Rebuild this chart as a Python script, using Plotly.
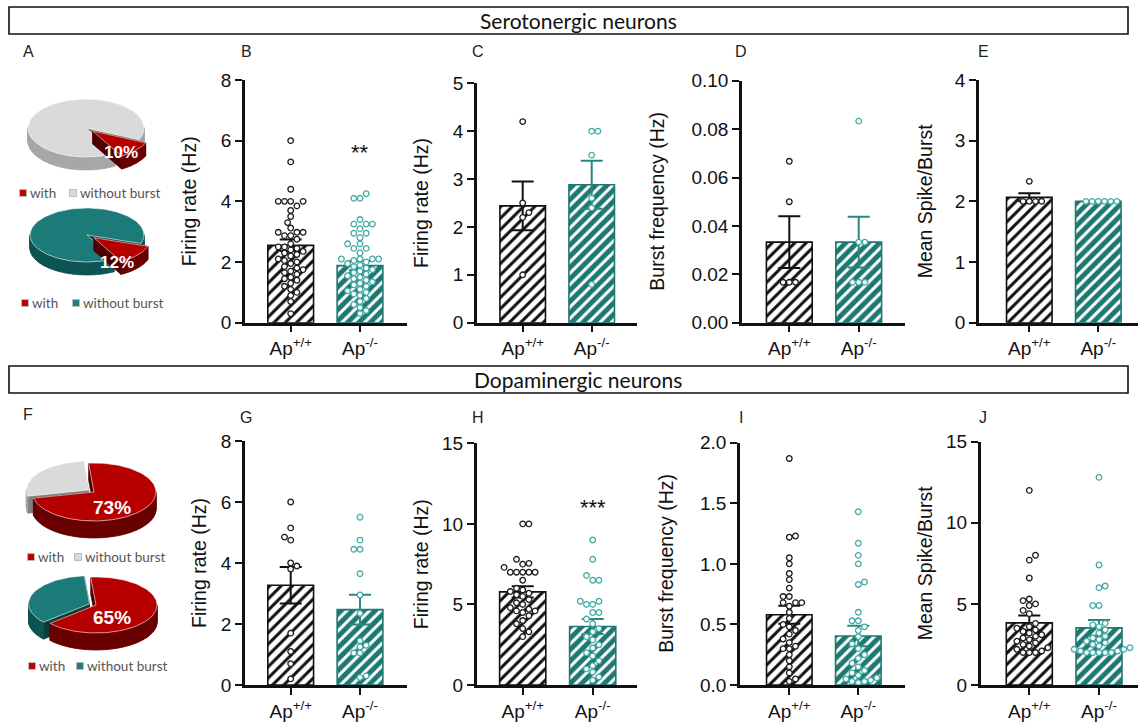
import numpy as np
import plotly.graph_objects as go

W, H = 1138, 722
ARIAL = "Liberation Sans, Arial, Helvetica, sans-serif"
SOFT = "Lato, Open Sans, sans-serif"

groups = ["Ap<sup>+/+</sup>", "Ap<sup>-/-</sup>"]

# ---------------- Serotonergic neurons ----------------
b_wt = [6.0, 5.3, 4.4, 4.0, 4.0, 4.0, 4.0, 3.85, 3.7, 3.5, 3.3, 3.12, 2.98, 2.98, 2.98, 2.87, 2.87,
        2.75, 2.6, 2.5, 2.5, 2.45, 2.4, 2.35, 2.3, 2.25, 2.2, 2.1, 2.05, 2.0, 1.95, 1.85, 1.8, 1.75,
        1.7, 1.65, 1.6, 1.5, 1.45, 1.4, 1.3, 1.2, 1.1, 1.0, 0.9, 0.7, 0.3]
b_ko = [4.25, 4.1, 4.1, 3.4, 3.25, 3.25, 3.25, 3.1, 2.95, 2.95, 2.8, 2.6, 2.6, 2.45, 2.45, 2.3, 2.1,
        2.1, 2.1, 2.1, 2.05, 2.0, 1.95, 1.9, 1.85, 1.8, 1.75, 1.7, 1.65, 1.6, 1.55, 1.5, 1.45, 1.4,
        1.35, 1.3, 1.25, 1.2, 1.1, 1.05, 1.0, 0.95, 0.9, 0.8, 0.7, 0.6, 0.5, 0.4, 0.3]
b_mean = [2.55, 1.88]
b_sem = [0.19, 0.15]

c_wt = [4.2, 2.5, 2.3, 2.2, 1.0]
c_ko = [4.0, 4.0, 3.5, 2.6, 2.4, 0.8]
c_mean = [2.44, 2.88]
c_sem = [0.51, 0.50]

d_wt = [0.0667, 0.05, 0.0167, 0.0167, 0.0167]
d_ko = [0.0833, 0.0333, 0.0333, 0.0167, 0.0167, 0.0167]
d_mean = [0.0333, 0.0333]
d_sem = [0.0107, 0.0105]

e_wt = [2.33, 2.0, 2.0, 2.0, 2.0]
e_ko = [2.0, 2.0, 2.0, 2.0, 2.0, 2.0]
e_mean = [2.066, 2.0]
e_sem = [0.066, 0.0]

# ---------------- Dopaminergic neurons ----------------
g_wt = [6.0, 5.15, 4.85, 4.75, 4.0, 3.9, 3.8, 1.7, 1.1, 0.7, 0.2]
g_ko = [5.5, 4.75, 4.45, 4.45, 3.65, 2.95, 2.35, 1.45, 1.3, 1.25, 1.05, 1.05, 0.3, 0.25]
g_mean = [3.27, 2.47]
g_sem = [0.6, 0.49]

h_wt = [10.0, 10.0, 7.8, 7.55, 7.5, 7.3, 7.0, 7.0, 7.0, 7.0, 7.0, 6.5, 6.0, 5.9, 5.8, 5.7, 5.6, 5.5,
        5.3, 5.1, 5.0, 4.8, 4.7, 4.6, 4.6, 4.5, 4.3, 4.0, 3.8, 3.5, 3.3, 3.0]
h_ko = [9.0, 7.8, 6.8, 6.5, 6.5, 5.2, 5.2, 5.0, 5.0, 4.5, 4.5, 4.1, 3.8, 3.5, 3.3, 3.0, 2.8, 2.5,
        2.3, 2.0, 1.8, 1.5, 1.2, 1.0, 0.8, 0.5, 0.3]
h_mean = [5.78, 3.63]
h_sem = [0.35, 0.47]

i_wt = [1.87, 1.23, 1.22, 1.05, 1.0, 0.92, 0.87, 0.8, 0.73, 0.73, 0.68, 0.68, 0.68, 0.65, 0.6, 0.55,
        0.5, 0.48, 0.45, 0.42, 0.38, 0.35, 0.32, 0.3, 0.3, 0.25, 0.2, 0.15, 0.1, 0.05, 0.03]
i_ko = [1.43, 1.17, 1.07, 1.0, 0.85, 0.83, 0.6, 0.53, 0.53, 0.48, 0.45, 0.4, 0.34, 0.3, 0.25, 0.22,
        0.18, 0.15, 0.12, 0.1, 0.08, 0.06, 0.05, 0.04, 0.03, 0.03, 0.02]
i_mean = [0.58, 0.405]
i_sem = [0.075, 0.085]

j_wt = [12.0, 8.0, 7.7, 6.6, 5.3, 5.2, 5.0, 4.9, 4.6, 4.4, 3.8, 3.6, 3.5, 3.4, 3.3, 3.2, 3.1, 3.0,
        2.9, 2.8, 2.7, 2.6, 2.5, 2.4, 2.3, 2.2, 2.1, 2.0, 2.0, 2.0]
j_ko = [12.8, 7.4, 6.1, 6.0, 4.9, 4.9, 3.8, 3.7, 3.6, 3.4, 3.2, 3.0, 2.9, 2.8, 2.7, 2.6, 2.5, 2.4,
        2.3, 2.2, 2.2, 2.1, 2.1, 2.0, 2.0, 2.0, 2.0, 2.0]
j_mean = [3.83, 3.52]
j_sem = [0.45, 0.49]

# pies: percentage of neurons [with burst, without burst]
pie_labels = ["with", "without burst"]
pie_a1 = [10, 90]
pie_a2 = [12, 88]
pie_f1 = [73, 27]
pie_f2 = [65, 35]

# ---------------- styles ----------------
TEAL_BAR = "#1e7872"
TEAL_PT = "#44aaa6"
TEAL_ERR = "#2a8680"
BLACK = "#111111"
RED = dict(top="#b60000", side="#6a0000", cut="#4e0000", key="#c00000")
GRAY = dict(top="#dadada", side="#a8a8a8", cut="#808080", key="#d9d9d9")
TEALP = dict(top="#1c7b79", side="#0f5553", cut="#0a3d3c", key="#1f7f7c")

panels = [
    dict(letter="B", wt=b_wt, ko=b_ko, mean=b_mean, sem=b_sem, ymax=8, dtick=2, fmt="",
         title="Firing rate (Hz)", left=245, t0=290.7, t1=360, right=407, ybot=322.7, ytop=80,
         tx=189, sig="**", sig_y=5.6, lx=246, ly=52),
    dict(letter="C", wt=c_wt, ko=c_ko, mean=c_mean, sem=c_sem, ymax=5, dtick=1, fmt="",
         title="Firing rate (Hz)", left=477, t0=522.7, t1=591.7, right=636.7, ybot=322.7, ytop=83.3,
         tx=421, sig=None, lx=478, ly=52),
    dict(letter="D", wt=d_wt, ko=d_ko, mean=d_mean, sem=d_sem, ymax=0.10, dtick=0.02, fmt=".2f",
         title="Burst frequency (Hz)", left=742, t0=789.3, t1=858.7, right=905, ybot=322.7, ytop=80.7,
         tx=657, sig=None, lx=741, ly=52),
    dict(letter="E", wt=e_wt, ko=e_ko, mean=e_mean, sem=e_sem, ymax=4, dtick=1, fmt="",
         title="Mean Spike/Burst", left=979, t0=1029.3, t1=1098.3, right=1138, ybot=322.7, ytop=80,
         tx=925, sig=None, lx=983, ly=52),
    dict(letter="G", wt=g_wt, ko=g_ko, mean=g_mean, sem=g_sem, ymax=8, dtick=2, fmt="",
         title="Firing rate (Hz)", left=245, t0=290.7, t1=360, right=407, ybot=685, ytop=441,
         tx=199, sig=None, lx=246, ly=417),
    dict(letter="H", wt=h_wt, ko=h_ko, mean=h_mean, sem=h_sem, ymax=15, dtick=5, fmt="",
         title="Firing rate (Hz)", left=476.7, t0=522.7, t1=592.7, right=636.7, ybot=685, ytop=443.3,
         tx=421, sig="***", sig_y=11.0, lx=478, ly=417),
    dict(letter="I", wt=i_wt, ko=i_ko, mean=i_mean, sem=i_sem, ymax=2.0, dtick=0.5, fmt=".1f",
         title="Burst frequency (Hz)", left=740, t0=789.3, t1=858.3, right=905, ybot=685, ytop=442.7,
         tx=666, sig=None, lx=741, ly=417),
    dict(letter="J", wt=j_wt, ko=j_ko, mean=j_mean, sem=j_sem, ymax=15, dtick=5, fmt="",
         title="Mean Spike/Burst", left=980.7, t0=1029.3, t1=1099, right=1138, ybot=685, ytop=441.7,
         tx=925, sig=None, lx=983, ly=417),
]


def swarm_offsets(vals, ppu_y, ppu_x, diam=6.2):
    vals = np.asarray(vals, float)
    placed = []
    offs = np.zeros(len(vals))
    flip = 1
    for idx in np.argsort(vals, kind="stable"):
        y = vals[idx] * ppu_y
        cands = [0.0]
        for k in range(1, 40):
            s = k * diam / 2.0
            cands += [flip * s, -flip * s]
        for s in cands:
            if all((s - px) ** 2 + (y - py) ** 2 >= (diam * 0.97) ** 2 for px, py in placed):
                break
        if s != 0:
            flip = -flip
        placed.append((s, y))
        offs[idx] = s / ppu_x
    return offs


fig = go.Figure()
annotations = []
layout_axes = {}

for n, p in enumerate(panels, start=1):
    xa_name = "xaxis" if n == 1 else f"xaxis{n}"
    ya_name = "yaxis" if n == 1 else f"yaxis{n}"
    xr = "x" if n == 1 else f"x{n}"
    yr = "y" if n == 1 else f"y{n}"
    unit = p["t1"] - p["t0"]
    ppu_y = (p["ybot"] - p["ytop"]) / p["ymax"]
    layout_axes[xa_name] = dict(
        domain=[p["left"] / W, min(1.0, p["right"] / W)],
        range=[(p["left"] - p["t0"]) / unit, (p["right"] - p["t0"]) / unit],
        anchor=yr, showline=True, linecolor=BLACK, linewidth=2.5,
        ticks="outside", ticklen=7, tickwidth=2.2, tickcolor=BLACK,
        tickvals=[0, 1], ticktext=groups, tickfont=dict(family=ARIAL, size=19, color=BLACK),
        showgrid=False, zeroline=False, fixedrange=True)
    layout_axes[ya_name] = dict(
        domain=[1 - p["ybot"] / H, 1 - p["ytop"] / H],
        range=[0, p["ymax"]], anchor=xr, showline=True, linecolor=BLACK, linewidth=2.5,
        ticks="outside", ticklen=7, tickwidth=2.2, tickcolor=BLACK,
        tick0=0, dtick=p["dtick"], tickformat=p["fmt"],
        tickfont=dict(family=ARIAL, size=19, color=BLACK),
        showgrid=False, zeroline=False, fixedrange=True)

    styles = [
        dict(bg="white", fg=BLACK, line=BLACK, err=BLACK, pt="#1a1a1a"),
        dict(bg=TEAL_BAR, fg="white", line=TEAL_BAR, err=TEAL_ERR, pt=TEAL_PT),
    ]
    for g, st in enumerate(styles):
        fig.add_trace(go.Bar(
            x=[g], y=[p["mean"][g]], width=0.66, xaxis=xr, yaxis=yr,
            marker=dict(color=st["bg"], line=dict(color=st["line"], width=1.6),
                        pattern=dict(shape="/", fgcolor=st["fg"], bgcolor=st["bg"],
                                     size=8, solidity=0.38)),
            error_y=dict(type="data", array=[p["sem"][g]], color=st["err"], thickness=2, width=11),
            showlegend=False, hoverinfo="skip"))
    for g, key in enumerate(["wt", "ko"]):
        vals = p[key]
        offs = swarm_offsets(vals, ppu_y, unit)
        fig.add_trace(go.Scatter(
            x=g + offs, y=vals, mode="markers", xaxis=xr, yaxis=yr, cliponaxis=False,
            marker=dict(symbol="circle", size=5.6, color="white",
                        line=dict(color=styles[g]["pt"], width=1.3)),
            showlegend=False, hoverinfo="skip"))

    annotations.append(dict(
        x=p["tx"] / W, y=1 - ((p["ybot"] + p["ytop"]) / 2) / H, xref="paper", yref="paper",
        text=p["title"], textangle=-90, showarrow=False, xanchor="center", yanchor="middle",
        font=dict(family=ARIAL, size=19.5, color=BLACK)))
    annotations.append(dict(
        x=p["lx"] / W, y=1 - p["ly"] / H, xref="paper", yref="paper", text=p["letter"],
        showarrow=False, xanchor="center", yanchor="middle",
        font=dict(family=ARIAL, size=16, color="#222222")))
    if p["sig"]:
        annotations.append(dict(
            x=1, y=p["sig_y"], xref=xr, yref=yr, text=p["sig"], showarrow=False,
            xanchor="center", yanchor="middle", font=dict(family=ARIAL, size=22, color=BLACK)))

# letters of the pie panels
for letter, lx, ly in [("A", 28, 52), ("F", 28, 415)]:
    annotations.append(dict(x=lx / W, y=1 - ly / H, xref="paper", yref="paper", text=letter,
                            showarrow=False, xanchor="center", yanchor="middle",
                            font=dict(family=ARIAL, size=16, color="#222222")))

# ---------------- 3D pies on a pixel canvas axis ----------------
CX, CY = "x9", "y9"
layout_axes["xaxis9"] = dict(domain=[0, 1], range=[0, W], visible=False, fixedrange=True, anchor="y9")
layout_axes["yaxis9"] = dict(domain=[0, 1], range=[H, 0], visible=False, fixedrange=True, anchor="x9")


def poly_trace(xs, ys, color, lw=0.7, lcolor=None):
    return go.Scatter(x=xs, y=ys, xaxis=CX, yaxis=CY, mode="lines", fill="toself",
                      fillcolor=color, line=dict(color=lcolor or color, width=lw),
                      showlegend=False, hoverinfo="skip")


def add_solid(cx, cy, rx, ry, depth, a0, a1, col):
    nseg = max(3, int(abs(a1 - a0) / 2.0) + 1)
    th = np.radians(np.linspace(a0, a1, nseg))
    ex = cx + rx * np.cos(th)
    ey = cy - ry * np.sin(th)
    # radial cut faces
    xs, ys = [], []
    for (px, py) in [(ex[0], ey[0]), (ex[-1], ey[-1])]:
        xs += [cx, px, px, cx, cx, None]
        ys += [cy, py, py + depth, cy + depth, cy, None]
    fig.add_trace(poly_trace(xs, ys, col["cut"]))
    # outer wall (front facing parts)
    xs, ys = [], []
    for k in range(nseg - 1):
        mid = (th[k] + th[k + 1]) / 2
        if np.sin(mid) > 0.02:
            continue
        xs += [ex[k], ex[k + 1], ex[k + 1], ex[k], ex[k], None]
        ys += [ey[k], ey[k + 1], ey[k + 1] + depth, ey[k] + depth, ey[k], None]
    if xs:
        fig.add_trace(poly_trace(xs, ys, col["side"]))
    # top face
    fig.add_trace(poly_trace([cx] + list(ex) + [cx], [cy] + list(ey) + [cy], col["top"],
                             lw=1.0, lcolor="rgba(255,255,255,0.55)"))


def add_pie(pct, cx, cy, rx, ry, depth, pulled, mid, pull, cols):
    span = pct[pulled] * 3.6
    a0, a1 = mid - span / 2, mid + span / 2
    other = 1 - pulled
    m = np.radians(mid)
    ox, oy = pull * np.cos(m), -pull * np.sin(m) * ry / rx
    pieces = [
        (np.sin(m), lambda: add_solid(cx + ox, cy + oy, rx, ry, depth, a0, a1, cols[pulled])),
        (-np.sin(m), lambda: add_solid(cx, cy, rx, ry, depth, a1, a0 + 360, cols[other])),
    ]
    for _, draw in sorted(pieces, key=lambda t: -t[0]):
        draw()


pies = [
    dict(pct=pie_a1, c=(86, 128), rx=58, ry=29, d=13, pulled=0, mid=-42, pull=9,
         cols=[RED, GRAY], lab=(121, 152), fs=17, leg=(193, 23, 73)),
    dict(pct=pie_a2, c=(87, 235), rx=57, ry=27, d=13, pulled=0, mid=-40, pull=9,
         cols=[RED, TEALP], lab=(117, 262), fs=17, leg=(303, 25, 76)),
    dict(pct=pie_f1, c=(94, 492), rx=62, ry=29, d=17, pulled=1, mid=143.6, pull=7,
         cols=[RED, GRAY], lab=(112, 507), fs=19, leg=(557, 31, 78)),
    dict(pct=pie_f2, c=(96, 605), rx=61, ry=28, d=17, pulled=1, mid=158, pull=7,
         cols=[RED, TEALP], lab=(112, 617), fs=19, leg=(666, 32, 80)),
]

for pc in pies:
    add_pie(pc["pct"], pc["c"][0], pc["c"][1], pc["rx"], pc["ry"], pc["d"], pc["pulled"],
            pc["mid"], pc["pull"], pc["cols"])
    annotations.append(dict(x=pc["lab"][0], y=pc["lab"][1], xref=CX, yref=CY,
                            text=f"<b>{pc['pct'][0]}%</b>", showarrow=False,
                            font=dict(family=ARIAL, size=pc["fs"], color="white")))
    ly, sx1, sx2 = pc["leg"]
    fig.add_trace(go.Scatter(
        x=[sx1, sx2], y=[ly, ly], xaxis=CX, yaxis=CY, mode="markers",
        marker=dict(symbol="square", size=7, color=[pc["cols"][0]["key"], pc["cols"][1]["key"]],
                    line=dict(color="#bbbbbb", width=1)),
        showlegend=False, hoverinfo="skip"))
    for sx, txt in [(sx1, pie_labels[0]), (sx2, pie_labels[1])]:
        annotations.append(dict(x=sx + 5, y=ly, xref=CX, yref=CY, text=txt, showarrow=False,
                                xanchor="left", yanchor="middle",
                                font=dict(family=SOFT, size=13.5, color="#555555")))

# ---------------- section headers ----------------
shapes = []
for (y0, y1, txt) in [(7, 34, "Serotonergic neurons"), (366, 393, "Dopaminergic neurons")]:
    shapes.append(dict(type="rect", xref="paper", yref="paper", x0=9 / W, x1=1128 / W,
                       y0=1 - y1 / H, y1=1 - y0 / H, line=dict(color=BLACK, width=1.6),
                       fillcolor="rgba(0,0,0,0)"))
    annotations.append(dict(x=578 / W, y=1 - ((y0 + y1) / 2) / H, xref="paper", yref="paper",
                            text=txt, showarrow=False, xanchor="center", yanchor="middle",
                            font=dict(family=SOFT, size=21, color=BLACK)))

fig.update_layout(
    template="none", width=W, height=H, margin=dict(l=0, r=0, t=0, b=0, pad=0),
    paper_bgcolor="white", plot_bgcolor="rgba(0,0,0,0)", barmode="overlay",
    showlegend=False, annotations=annotations, shapes=shapes, **layout_axes)

fig.write_html("out.html", config={"displayModeBar": False},
               post_script="document.body.style.margin='0';document.body.style.overflow='hidden';")
